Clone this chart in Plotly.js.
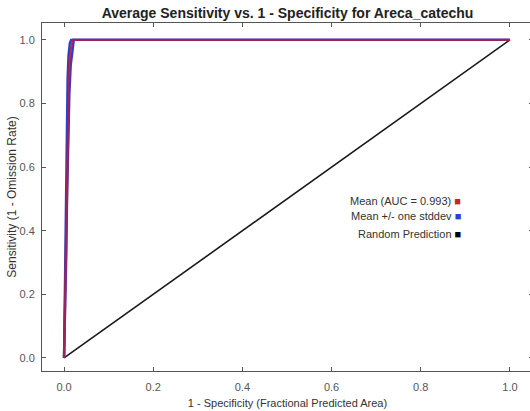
<!DOCTYPE html>
<html>
<head>
<meta charset="utf-8">
<script src="https://cdn.plot.ly/plotly-3.0.1.min.js"></script>
<style>html,body{margin:0;padding:0;background:#fff;overflow:hidden;}#wrap{width:530px;height:411px;overflow:hidden;}#chart{width:533px;height:411px;}</style>
</head>
<body>
<div id="wrap"><div id="chart"></div></div>
<script>
// Mean ROC curve
const meanX = [0, 0.002, 0.004, 0.006, 0.008, 0.010, 0.012, 0.015, 0.018, 0.020, 1.0];
const meanY = [0, 0.15, 0.35, 0.55, 0.72, 0.85, 0.93, 0.97, 0.99, 1.0, 1.0];
// Mean + one stddev
const upperX = [0, 0.0015, 0.003, 0.0045, 0.006, 0.008, 0.010, 0.013, 0.016, 1.0];
const upperY = [0, 0.18, 0.40, 0.60, 0.76, 0.88, 0.95, 0.99, 1.0, 1.0];
// Mean - one stddev
const lowerX = [0, 0.0025, 0.005, 0.007, 0.009, 0.012, 0.015, 0.019, 0.022, 1.0];
const lowerY = [0, 0.12, 0.32, 0.52, 0.68, 0.83, 0.92, 0.97, 1.0, 1.0];
// Random prediction
const randX = [0, 1];
const randY = [0, 1];

const legendLabels = ["Mean (AUC = 0.993)", "Mean +/- one stddev", "Random Prediction"];
const legendColors = ["#d11f2a", "#2a3fd0", "#000000"];

const xTicks = [0, 0.2, 0.4, 0.6, 0.8, 1.0];
const yTicks = [0, 0.2, 0.4, 0.6, 0.8, 1.0];

const traces = [
  {x: randX, y: randY, mode: 'lines', line: {color: '#1a1a1a', width: 1.6}, showlegend: false, hoverinfo: 'skip'},
  {x: upperX, y: upperY, mode: 'lines', line: {color: '#2a3fd0', width: 2.4}, showlegend: false, hoverinfo: 'skip'},
  {x: lowerX, y: lowerY, mode: 'lines', line: {color: '#2a3fd0', width: 2.4}, showlegend: false, hoverinfo: 'skip'},
  {x: meanX, y: meanY, mode: 'lines', line: {color: '#a8204c', width: 2.4}, opacity: 0.9, showlegend: false, hoverinfo: 'skip'}
];

const legY = [0.494, 0.447, 0.39];
const annotations = legendLabels.map((t, i) => ({
  x: 0.895, y: legY[i], xref: 'x', yref: 'y', xanchor: 'right', yanchor: 'middle',
  showarrow: false,
  text: t + ' <span style="color:' + legendColors[i] + '">■</span>',
  font: {family: 'Liberation Sans, Arial, sans-serif', size: 11, color: '#333'}
}));

const axisCommon = {
  showgrid: false, zeroline: false, showline: true, linecolor: '#555', linewidth: 1,
  mirror: 'ticks', ticks: 'inside', ticklen: 4, tickcolor: '#555',
  tickfont: {family: 'Liberation Sans, Arial, sans-serif', size: 11, color: '#555'},
  tickformat: '.1f'
};

const layout = {
  width: 533, height: 411,
  margin: {l: 42, r: 0, t: 23, b: 40},
  paper_bgcolor: '#fff', plot_bgcolor: '#fff',
  title: {text: '<b>Average Sensitivity vs. 1 - Specificity for Areca_catechu</b>',
    font: {family: 'Liberation Sans, Arial, sans-serif', size: 14, color: '#222'},
    x: 0.5, xref: 'paper', xanchor: 'center', y: 0.968, yref: 'container', yanchor: 'middle'},
  xaxis: Object.assign({}, axisCommon, {
    range: [-0.0494, 1.0517], tickvals: xTicks, ticklabelstandoff: 6,
    title: {text: '1 - Specificity (Fractional Predicted Area)', standoff: 7,
      font: {family: 'Liberation Sans, Arial, sans-serif', size: 11, color: '#333'}}
  }),
  yaxis: Object.assign({}, axisCommon, {
    range: [-0.041, 1.053], tickvals: yTicks, ticklabelstandoff: 4,
    title: {text: 'Sensitivity (1 - Omission Rate)', standoff: 0,
      font: {family: 'Liberation Sans, Arial, sans-serif', size: 12, color: '#333'}}
  }),
  annotations: annotations,
  showlegend: false
};

Plotly.newPlot('chart', traces, layout, {displayModeBar: false, staticPlot: true});
</script>
</body>
</html>
